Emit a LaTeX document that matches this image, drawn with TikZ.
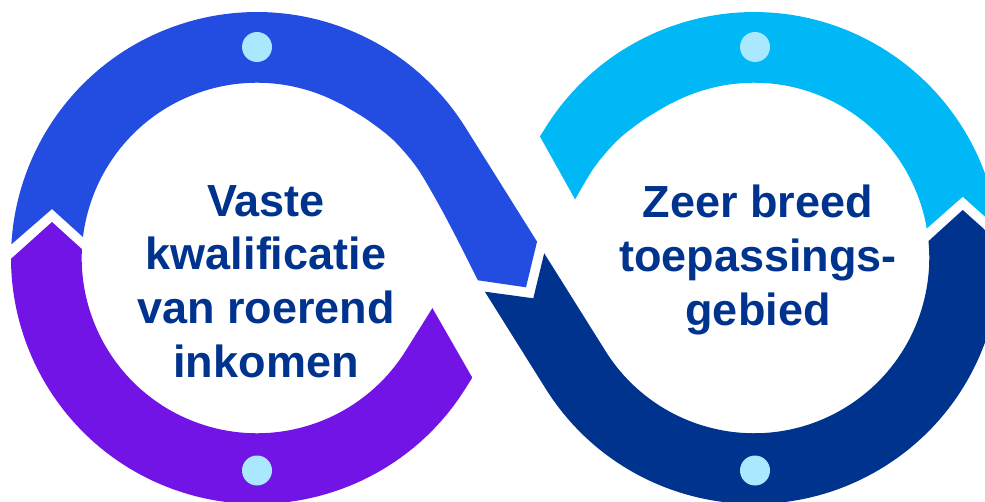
\documentclass[tikz,border=0pt]{standalone}
\usepackage{fontspec}
\setmainfont{Liberation Sans}
\usepackage{tikz}
\usetikzlibrary{positioning}

\definecolor{loopblue}{RGB}{35,76,225}
\definecolor{looppurple}{RGB}{115,20,230}
\definecolor{loopcyan}{RGB}{0,184,245}
\definecolor{loopnavy}{RGB}{0,51,141}
\definecolor{dotblue}{RGB}{170,232,255}

\begin{document}
\begin{tikzpicture}[x=1pt,y=-1pt,
                loopband/.style={line width=70.7pt},
                loopdot/.style={circle,fill=dotblue,inner sep=0pt,minimum size=30pt},
                looptext/.style={align=center,anchor=north,inner sep=0pt,text=loopnavy,
                  font=\fontsize{45}{53.7}\selectfont\bfseries}]
                \path[use as bounding box,clip] (0,0) rectangle (985,502);
                % bottom left
                \begin{scope}
                \clip (-17,284) -- (52,222) -- (105,270) -- (414,276) -- (492,412)
                      -- (492,520) -- (-20,520) -- cycle;
                \draw[loopband,looppurple] (257,258) ++(200:210.6)
                      arc[start angle=200,end angle=32.1,radius=210.6] -- (505.5,258);
                \end{scope}
                % top right
                \begin{scope}
                \clip (509,81) -- (595.5,236) -- (902.5,250) -- (962.7,196.7)
                      -- (1015,243.4) -- (1015,-20) -- (509,-20) -- cycle;
                \draw[loopband,loopcyan] (505.5,258) -- (575.6,146.1)
                      arc[start angle=212.1,end angle=370,radius=210.6];
                \end{scope}
                % top left
                \begin{scope}
                \clip (-17,269) -- (52,209) -- (105,257) -- (452,276.5) -- (526,287.3)
                      -- (543,217) -- (560,-20) -- (-20,-20) -- cycle;
                \draw[loopband,loopblue] (257,258) ++(-200:210.6)
                      arc[start angle=-200,end angle=-32.1,radius=210.6] -- (537.4,308.8);
                \end{scope}
                % bottom right
                \begin{scope}
                \clip (460.2,288.3) -- (533.3,298.3) -- (549.9,229.7) -- (904.5,262.9)
                      -- (962.7,210) -- (1015,256.7) -- (1015,520) -- (460,520) -- cycle;
                \draw[loopband,loopnavy] (473.6,207.2) -- (575.6,369.9)
                      arc[start angle=147.9,end angle=-30,radius=210.6];
                \end{scope}
                % the upper bands get thinner towards the middle
                \fill[white] plot[smooth] coordinates {(340,103.6) (366,119) (393,140)
                      (417,168) (440,207) (460,245) (478,281)} -- (340,281) -- cycle;
                \fill[white] plot[smooth] coordinates {(671,103.6) (645,119) (618,140)
                      (594,168) (571,207)} -- (671,207) -- cycle;

                \node[loopdot] (d_1) at (257,47) {};
                \node[loopdot] (d_2) at (257,470.5) {};
                \node[loopdot] (d_3) at (755,47) {};
                \node[loopdot] (d_4) at (755,470.5) {};

                \node[looptext] (t_1) at (266,185) {Vaste\\kwalificatie\\van roerend\\inkomen};
                \node[looptext] (t_2) at (758,185) {Zeer breed\\toepassings-\\gebied};
             \end{tikzpicture}
\end{document}
